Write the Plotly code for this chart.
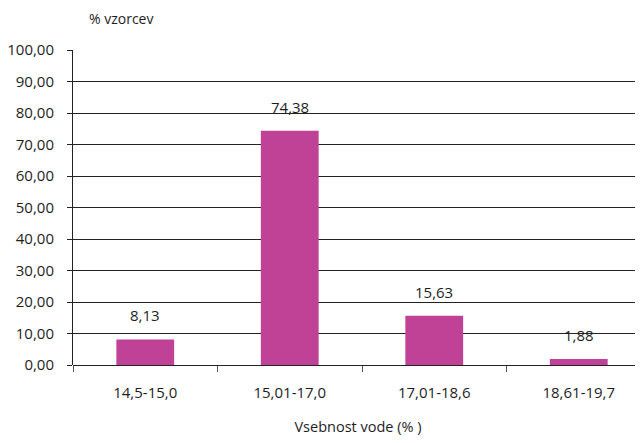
import plotly.graph_objects as go

categories = ["14,5-15,0", "15,01-17,0", "17,01-18,6", "18,61-19,7"]
values = [8.13, 74.38, 15.63, 1.88]
value_labels = ["8,13", "74,38", "15,63", "1,88"]
y_ticks = [0, 10, 20, 30, 40, 50, 60, 70, 80, 90, 100]
y_tick_labels = ["0,00", "10,00", "20,00", "30,00", "40,00", "50,00",
                 "60,00", "70,00", "80,00", "90,00", "100,00"]

FONT = "Open Sans"
TXT = "#1e1e1e"

fig = go.Figure()
fig.add_trace(go.Bar(
    x=categories, y=values,
    marker=dict(color="#C04297", line=dict(width=0)),
    width=0.4,
    hoverinfo="skip",
))

for c, v, t in zip(categories, values, value_labels):
    fig.add_annotation(x=c, y=v, text=t, showarrow=False,
                       yanchor="bottom", yshift=12,
                       font=dict(family=FONT, size=15, color=TXT))

fig.update_layout(
    width=635, height=435,
    margin=dict(l=65, r=0, t=42, b=78, autoexpand=False),
    paper_bgcolor="white", plot_bgcolor="white",
    showlegend=False,
    font=dict(family=FONT, size=15, color=TXT),
    xaxis=dict(
        type="category",
        range=[-0.5, -0.5 + 570 / 144.5],
        tickson="boundaries",
        ticks="outside", ticklen=6, tickcolor="#555555", tickwidth=1,
        showline=False, showgrid=False, zeroline=False,
        ticklabelstandoff=17,
        tickfont=dict(family=FONT, size=15, color=TXT),
        title=dict(text="Vsebnost vode (% )", standoff=20,
                   font=dict(family=FONT, size=14.5, color=TXT)),
        automargin=False,
    ),
    yaxis=dict(
        range=[0, 100],
        tickvals=y_ticks, ticktext=y_tick_labels,
        ticks="outside", ticklen=5, tickcolor="#222222", tickwidth=1,
        showline=True, linecolor="#222222", linewidth=1,
        showgrid=True, gridcolor="#222222", gridwidth=1,
        zeroline=True, zerolinecolor="#222222", zerolinewidth=1,
        ticklabelstandoff=10,
        tickfont=dict(family=FONT, size=15, color=TXT),
        automargin=False,
    ),
)

fig.add_annotation(xref="paper", yref="paper", x=(87 - 73) / 570, y=1,
                   yshift=32, xanchor="left", yanchor="middle",
                   text="% vzorcev", showarrow=False,
                   font=dict(family=FONT, size=14, color=TXT))

fig.write_html("out.html")
